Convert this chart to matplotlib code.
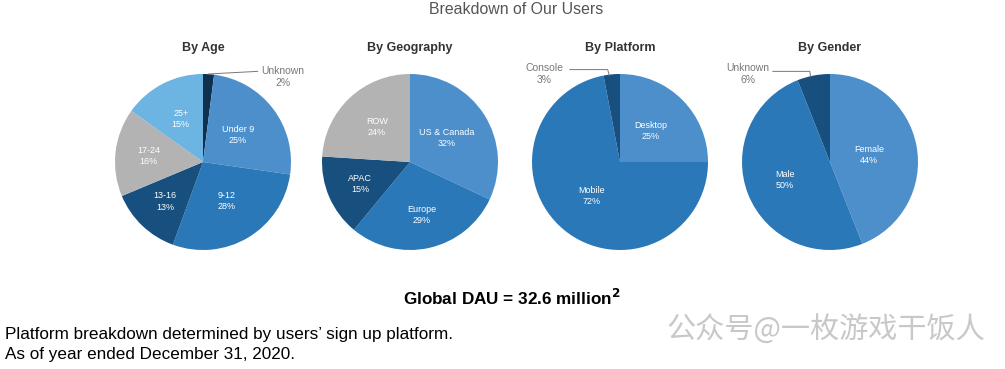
import numpy as np
import matplotlib
matplotlib.use("Agg")
import matplotlib.pyplot as plt

plt.rcParams['font.family'] = ['Liberation Sans', 'Noto Sans CJK SC', 'DejaVu Sans']

# data
age_labels = ['Unknown', 'Under 9', '9-12', '13-16', '17-24', '25+']
age_vals = [2, 25, 28, 13, 16, 15]
geo_labels = ['US & Canada', 'Europe', 'APAC', 'ROW']
geo_vals = [32, 29, 15, 24]
plat_labels = ['Desktop', 'Mobile', 'Console']
plat_vals = [25, 72, 3]
gen_labels = ['Female', 'Male', 'Unknown']
gen_vals = [44, 50, 6]

c_navy = '#10304f'
c_dark = '#17507f'
c_mid = '#2a78b8'
c_light = '#4d8fca'
c_sky = '#6cb4e2'
c_gray = '#b3b3b3'

W, H = 1005, 369
fig = plt.figure(figsize=(W / 100, H / 100), dpi=100)

def pie_axes(cx, cy, r=88):
    ax = fig.add_axes([(cx - r) / W, (H - cy - r) / H, 2 * r / W, 2 * r / H])
    return ax

def draw_pie(ax, vals, labels, colors, title, inside):
    wedges, _ = ax.pie(vals, colors=colors, startangle=90, counterclock=False,
                       wedgeprops=dict(linewidth=0))
    ax.set_xlim(-1, 1)
    ax.set_ylim(-1, 1)
    ax.set_aspect('equal')
    ax.axis('off')
    for w, lab, v, d in zip(wedges, labels, vals, inside):
        if d is None:
            continue
        a = np.deg2rad((w.theta1 + w.theta2) / 2)
        ax.text(d * np.cos(a), d * np.sin(a), f'{lab}\n{v}%', ha='center', va='center',
                color='white', fontsize=6.5, linespacing=1.3)
    ax.text(0, 1.29, title, ha='center', va='center', fontsize=9, fontweight='bold',
            color='#333333', clip_on=False)

def leader(ax, text, tx, ty, xs, ys):
    ax.plot(xs, ys, color='#777777', lw=0.7, clip_on=False)
    ax.text(tx, ty, text, ha='center', va='center', fontsize=7.5, color='#777777',
            linespacing=1.25, clip_on=False)

ax1 = pie_axes(203, 162)
draw_pie(ax1, age_vals, age_labels, [c_navy, c_light, c_mid, c_dark, c_gray, c_sky],
         'By Age', [None, 0.5, 0.52, 0.62, 0.62, 0.55])
leader(ax1, f'{age_labels[0]}\n{age_vals[0]}%', 0.91, 0.97, [0.06, 0.62], [1.0, 1.03])

ax2 = pie_axes(410, 162)
draw_pie(ax2, geo_vals, geo_labels, [c_light, c_mid, c_dark, c_gray],
         'By Geography', [0.5, 0.62, 0.62, 0.55])

ax3 = pie_axes(620, 162)
draw_pie(ax3, plat_vals, plat_labels, [c_light, c_mid, c_dark],
         'By Platform', [0.5, 0.5, None])
leader(ax3, f'{plat_labels[2]}\n{plat_vals[2]}%', -0.86, 1.0,
       [-0.57, -0.14, -0.12], [1.05, 1.05, 0.98])

ax4 = pie_axes(830, 162)
draw_pie(ax4, gen_vals, gen_labels, [c_light, c_mid, c_dark],
         'By Gender', [0.45, 0.55, None])
leader(ax4, f'{gen_labels[2]}\n{gen_vals[2]}%', -0.93, 1.0,
       [-0.65, -0.23, -0.22], [1.03, 1.03, 0.97])

fig.text(516 / W, 1 - 10 / H, 'Breakdown of Our Users', ha='center', va='center',
         fontsize=11.4, color='#555555')
fig.text(512 / W, 1 - 298 / H, r'Global DAU = 32.6 million$^{\mathbf{2}}$', ha='center',
         va='center', fontsize=12.3, fontweight='bold', color='black')
fig.text(5 / W, 1 - 335 / H, 'Platform breakdown determined by users\u2019 sign up platform.',
         ha='left', va='center', fontsize=12.3, color='black')
fig.text(5 / W, 1 - 354 / H, 'As of year ended December 31, 2020.',
         ha='left', va='center', fontsize=12.3, color='black')
fig.text(667 / W, 1 - 330 / H, '公众号@一枚游戏干饭人', ha='left', va='center',
         fontsize=21, color='#c8c8c8', family=['Noto Sans CJK SC', 'DejaVu Sans'])

fig.savefig('out.png', dpi=100, facecolor='white')
